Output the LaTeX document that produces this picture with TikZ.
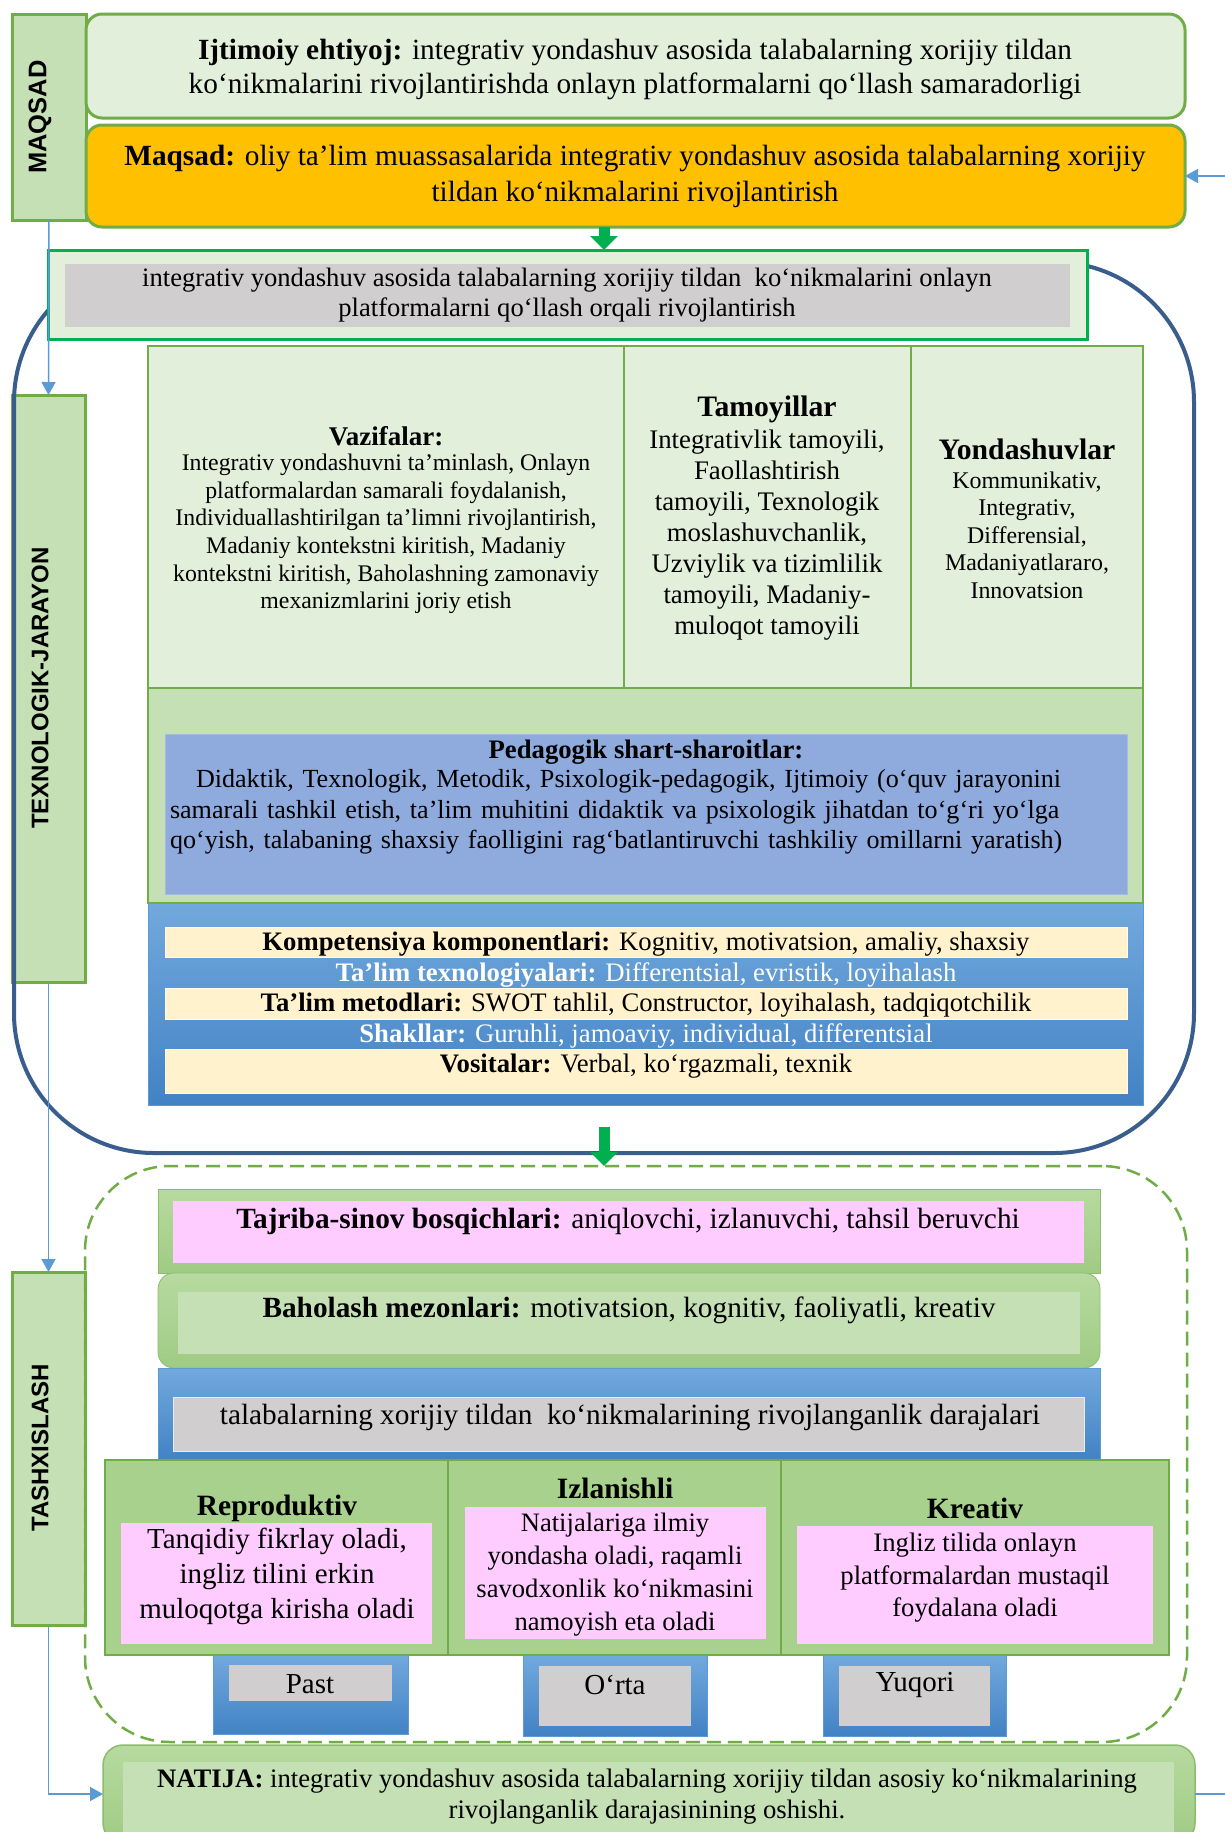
\documentclass[tikz,border=0pt]{standalone}
\usepackage{fontspec}
\setmainfont{Liberation Serif}
\newfontfamily\lsans{Liberation Sans}
\usetikzlibrary{arrows.meta}
\definecolor{gb}{HTML}{70AD47}
\definecolor{lgreen}{HTML}{E2EFDA}
\definecolor{mgreen}{HTML}{C5E0B4}
\definecolor{dgreen}{HTML}{A9D18E}
\definecolor{orng}{HTML}{FFC000}
\definecolor{bgreen}{HTML}{00B050}
\definecolor{gry}{HTML}{D0CECE}
\definecolor{pnk}{HTML}{FFCCFF}
\definecolor{crm}{HTML}{FFF2CC}
\definecolor{pblue}{HTML}{8FAADC}
\definecolor{cblue}{HTML}{5B9BD5}
\definecolor{outl}{HTML}{395E8E}
\definecolor{btop}{HTML}{72A9DD}
\definecolor{bbot}{HTML}{4282C4}
\definecolor{gtop}{HTML}{B7DAA0}
\definecolor{gbot}{HTML}{9FCB83}
\begin{document}
\begin{tikzpicture}[x=1pt,y=-1pt,
  bx/.style={inner sep=0pt, outer sep=0pt, anchor=north west},
  lbl/.style={bx, draw=gb, fill=mgreen, line width=3pt},
  lbltext/.style={rotate=90, font=\lsans\bfseries\fontsize{24}{24}\selectfont},
  conn/.style={draw=cblue, line width=1.5pt, -{Triangle[width=14pt,length=13pt]}},
  garrow/.style={draw=bgreen, line width=11pt, -{Triangle[width=27pt,length=14pt]}},
  txt/.style={inner sep=0pt, align=center},
  blu/.style={bx, top color=btop, bottom color=bbot, draw=cblue, line width=0.8pt},
  grn/.style={bx, top color=gtop, bottom color=gbot, draw=gb!80, line width=0.8pt}
]
\clip (0,0) rectangle (1225,1832);
\fill[white] (0,0) rectangle (1225,1832);

% ---------- MAQSAD section ----------
\node[lbl, minimum width=74pt, minimum height=206pt] (lmaq) at (12,14) {};
\node[lbltext, font=\lsans\bfseries\fontsize{25.5}{25.5}\selectfont] (tmaq) at (40,117) {MAQSAD};

\node[bx, draw=gb, fill=lgreen, line width=3pt, rounded corners=16pt,
      minimum width=1099pt, minimum height=104pt] (ijt) at (86,14) {};
\node[txt, font=\fontsize{29.3}{34}\selectfont] (tijt) at (635,69)
  {\textbf{Ijtimoiy ehtiyoj:} integrativ yondashuv asosida talabalarning xorijiy tildan\\
   ko‘nikmalarini rivojlantirishda onlayn platformalarni qo‘llash samaradorligi};

\node[bx, draw=gb, fill=orng, line width=3pt, rounded corners=16pt,
      minimum width=1099pt, minimum height=102pt] (maq) at (86,125) {};
\node[txt, font=\fontsize{29.3}{36}\selectfont] (tmaqs) at (635,176)
  {\textbf{Maqsad:} oliy ta’lim muassasalarida integrativ yondashuv asosida talabalarning xorijiy\\
   tildan ko‘nikmalarini rivojlantirish};

% ---------- side labels ----------
\node[lbl, minimum width=73pt, minimum height=587pt] (ltex) at (12,395) {};
\node[lbltext] (ttex) at (40,688) {TEXNOLOGIK-JARAYON};
\node[lbl, minimum width=73pt, minimum height=353pt] (ltash) at (12,1272) {};
\node[lbltext] (ttash) at (40,1448) {TASHXISLASH};

% ---------- big blue outline ----------
\node[bx, draw=outl, line width=4pt, rounded corners=140pt,
      minimum width=1180pt, minimum height=891pt] (outline) at (14,262) {};

% ---------- process box ----------
\node[bx, draw=bgreen, fill=lgreen, line width=3pt,
      minimum width=1039pt, minimum height=89pt] (b1) at (48,250) {};
\node[bx, fill=gry, minimum width=1005pt, minimum height=63pt] (b1in) at (65,264) {};
\node[txt, font=\fontsize{26.6}{30}\selectfont] (tb1) at (567,295)
  {integrativ yondashuv asosida talabalarning xorijiy tildan\ \ ko‘nikmalarini onlayn\\
   platformalarni qo‘llash orqali rivojlantirish};

% ---------- table ----------
\node[bx, draw=gb, fill=lgreen, line width=2pt, minimum width=476pt, minimum height=342pt] (vaz) at (148,346) {};
\node[bx, draw=gb, fill=lgreen, line width=2pt, minimum width=287pt, minimum height=342pt] (tam) at (624,346) {};
\node[bx, draw=gb, fill=lgreen, line width=2pt, minimum width=232pt, minimum height=342pt] (yon) at (911,346) {};

\node[txt, font=\bfseries\fontsize{27}{27}\selectfont] (tvazh) at (386,436) {Vazifalar:};
\node[txt, font=\fontsize{23.8}{27.6}\selectfont] (tvaz) at (386,534)
  {Integrativ yondashuvni ta’minlash, Onlayn\\
   platformalardan samarali foydalanish,\\
   Individuallashtirilgan ta’limni rivojlantirish,\\
   Madaniy kontekstni kiritish, Madaniy\\
   kontekstni kiritish, Baholashning zamonaviy\\
   mexanizmlarini joriy etish};

\node[txt, font=\bfseries\fontsize{29.7}{29.7}\selectfont] (ttamh) at (767,409) {Tamoyillar};
\node[txt, font=\fontsize{26.8}{31}\selectfont] (ttam) at (767,535)
  {Integrativlik tamoyili,\\ Faollashtirish\\ tamoyili, Texnologik\\ moslashuvchanlik,\\
   Uzviylik va tizimlilik\\ tamoyili, Madaniy-\\ muloqot tamoyili};

\node[txt, font=\bfseries\fontsize{29.7}{29.7}\selectfont] (tyonh) at (1027,449) {Yondashuvlar};
\node[txt, font=\fontsize{23.9}{27.5}\selectfont] (tyon) at (1027,535)
  {Kommunikativ,\\ Integrativ,\\ Differensial,\\ Madaniyatlararo,\\ Innovatsion};

% ---------- pedagogik ----------
\node[bx, draw=gb, fill=mgreen, line width=2pt, minimum width=995pt, minimum height=215pt] (ped) at (148,688) {};
\node[bx, draw=pblue!80!white, fill=pblue, line width=1pt, minimum width=962pt, minimum height=160pt] (pedin) at (165,734) {};
\node[txt, font=\bfseries\fontsize{26.7}{26.7}\selectfont] (tpedh) at (646,752) {Pedagogik shart-sharoitlar:};
\node[inner sep=0pt, text width=952pt, align=left, font=\fontsize{26.1}{30.5}\selectfont] (tped) at (646,812)
  {\hspace*{26pt}\makebox[926pt][s]{Didaktik, Texnologik, Metodik, Psixologik-pedagogik, Ijtimoiy (o‘quv jarayonini}\\
   \makebox[952pt][s]{samarali tashkil etish, ta’lim muhitini didaktik va psixologik jihatdan to‘g‘ri yo‘lga}\\
   qo‘yish, talabaning shaxsiy faolligini rag‘batlantiruvchi tashkiliy omillarni yaratish)};

% ---------- blue band ----------
\node[blu, minimum width=995pt, minimum height=202pt] (band) at (148,903) {};
\node[bx, fill=crm, draw=white!70!crm, line width=1pt, minimum width=962pt, minimum height=30pt] (r1) at (165,927) {};
\node[bx, fill=crm, draw=white!70!crm, line width=1pt, minimum width=962pt, minimum height=31pt] (r3) at (165,988) {};
\node[bx, fill=crm, draw=white!70!crm, line width=1pt, minimum width=962pt, minimum height=44pt] (r5) at (165,1049) {};
\node[txt, font=\fontsize{26.7}{26.7}\selectfont] (tr1) at (646,944)
  {\textbf{Kompetensiya komponentlari:} Kognitiv, motivatsion, amaliy, shaxsiy};
\node[txt, text=white, font=\fontsize{26.7}{26.7}\selectfont] (tr2) at (646,975)
  {\textbf{Ta’lim texnologiyalari:} Differentsial, evristik, loyihalash};
\node[txt, font=\fontsize{26.7}{26.7}\selectfont] (tr3) at (646,1005)
  {\textbf{Ta’lim metodlari:} SWOT tahlil, Constructor, loyihalash, tadqiqotchilik};
\node[txt, text=white, font=\fontsize{26.7}{26.7}\selectfont] (tr4) at (646,1036)
  {\textbf{Shakllar:} Guruhli, jamoaviy, individual, differentsial};
\node[txt, font=\fontsize{26.7}{26.7}\selectfont] (tr5) at (646,1066)
  {\textbf{Vositalar:} Verbal, ko‘rgazmali, texnik};

% ---------- diagnosis ----------
\node[bx, draw=gb, dashed, dash pattern=on 14pt off 7pt, line width=2.5pt, rounded corners=85pt,
      minimum width=1102pt, minimum height=576pt] (dbox) at (85,1166) {};

\node[grn, minimum width=942pt, minimum height=84pt] (taj) at (158,1189) {};
\node[bx, fill=pnk, minimum width=911pt, minimum height=62pt] (tajin) at (173,1201) {};
\node[txt, font=\fontsize{29.3}{29.3}\selectfont] (ttaj) at (628,1221)
  {\textbf{Tajriba-sinov bosqichlari:} aniqlovchi, izlanuvchi, tahsil beruvchi};

\node[grn, rounded corners=16pt, minimum width=942pt, minimum height=95pt] (bah) at (158,1273) {};
\node[bx, fill=mgreen, minimum width=902pt, minimum height=62pt] (bahin) at (178,1292) {};
\node[txt, font=\fontsize{29.3}{29.3}\selectfont] (tbah) at (629,1310)
  {\textbf{Baholash mezonlari:} motivatsion, kognitiv, faoliyatli, kreativ};

\node[blu, minimum width=942pt, minimum height=92pt] (dar) at (158,1368) {};
\node[bx, fill=gry, draw=white!60!gry, line width=1pt, minimum width=911pt, minimum height=54pt] (darin) at (173,1397) {};
\node[txt, font=\fontsize{29.3}{29.3}\selectfont] (tdar) at (630,1417)
  {talabalarning xorijiy tildan\ \ ko‘nikmalarining rivojlanganlik darajalari};

\node[bx, draw=gb, fill=dgreen, line width=1.5pt, minimum width=343pt, minimum height=195pt] (rep) at (105,1460) {};
\node[bx, draw=gb, fill=dgreen, line width=1.5pt, minimum width=333pt, minimum height=195pt] (izl) at (448,1460) {};
\node[bx, draw=gb, fill=dgreen, line width=1.5pt, minimum width=388pt, minimum height=195pt] (kre) at (781,1460) {};
\node[bx, fill=pnk, minimum width=311pt, minimum height=121pt] (repin) at (121,1523) {};
\node[bx, fill=pnk, minimum width=301pt, minimum height=132pt] (izlin) at (465,1507) {};
\node[bx, fill=pnk, minimum width=356pt, minimum height=118pt] (krein) at (797,1526) {};
\node[txt, font=\bfseries\fontsize{29.5}{29.5}\selectfont] (trep) at (277,1508) {Reproduktiv};
\node[txt, font=\bfseries\fontsize{29.5}{29.5}\selectfont] (tizl) at (615,1488) {Izlanishli};
\node[txt, font=\bfseries\fontsize{29.5}{29.5}\selectfont] (tkre) at (975,1508) {Kreativ};
\node[txt, font=\fontsize{29}{35}\selectfont] (trepb) at (277,1576)
  {Tanqidiy fikrlay oladi,\\ ingliz tilini erkin\\ muloqotga kirisha oladi};
\node[txt, font=\fontsize{26.6}{33}\selectfont] (tizlb) at (615,1575)
  {Natijalariga ilmiy\\ yondasha oladi, raqamli\\ savodxonlik ko‘nikmasini\\ namoyish eta oladi};
\node[txt, font=\fontsize{26.7}{32.5}\selectfont] (tkreb) at (975,1578)
  {Ingliz tilida onlayn\\ platformalardan mustaqil\\ foydalana oladi};

\node[blu, minimum width=195pt, minimum height=79pt] (past) at (213,1655) {};
\node[bx, fill=gry, minimum width=163pt, minimum height=36pt] (pastin) at (229,1665) {};
\node[blu, minimum width=184pt, minimum height=81pt] (orta) at (523,1655) {};
\node[bx, fill=gry, minimum width=152pt, minimum height=60pt] (ortain) at (539,1666) {};
\node[blu, minimum width=183pt, minimum height=81pt] (yuq) at (823,1655) {};
\node[bx, fill=gry, minimum width=151pt, minimum height=60pt] (yuqin) at (839,1666) {};
\node[txt, font=\fontsize{29}{29}\selectfont] (tpast) at (310,1684) {Past};
\node[txt, font=\fontsize{29}{29}\selectfont] (torta) at (615,1685) {O‘rta};
\node[txt, font=\fontsize{29}{29}\selectfont] (tyuq) at (915,1685) {Yuqori};

% ---------- result ----------
\node[grn, rounded corners=20pt, line width=1.5pt, minimum width=1092pt, minimum height=98pt] (nat) at (103,1745) {};
\node[bx, fill=mgreen, minimum width=1051pt, minimum height=80pt] (natin) at (123,1762) {};
\node[txt, font=\fontsize{26.7}{31}\selectfont] (tnat) at (647,1797)
  {\textbf{NATIJA:} integrativ yondashuv asosida talabalarning xorijiy tildan asosiy ko‘nikmalarining\\
   rivojlanganlik darajasinining oshishi.};

% ---------- connectors ----------
\coordinate (rin) at (1225,176);
\coordinate (rout) at (1225,1794);
\coordinate (gx) at (604,0);
\draw[conn] (rin) -- (maq.east);
\draw[conn] (lmaq.south) -- (ltex.north);
\draw[conn] (ltex.south) -- (ltash.north);
\draw[conn] (ltash.south) |- (nat.west);
\draw[draw=cblue, line width=1.5pt] (nat.east) -- (rout);
\draw[garrow] (gx |- maq.south) -- (gx |- b1.north);
\draw[garrow] ([yshift=26pt]gx |- outline.south) -- (gx |- dbox.north);
\end{tikzpicture}
\end{document}
